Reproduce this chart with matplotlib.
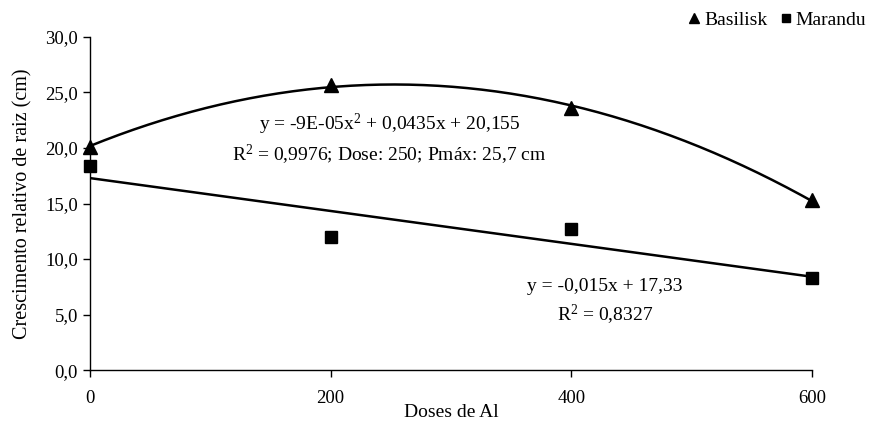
import numpy as np
import matplotlib
matplotlib.use("Agg")
import matplotlib.pyplot as plt
from matplotlib.ticker import FuncFormatter

plt.rcParams['font.family'] = ['Liberation Serif', 'DejaVu Serif']
plt.rcParams['mathtext.fontset'] = 'custom'
plt.rcParams['mathtext.rm'] = 'Liberation Serif'
plt.rcParams['mathtext.it'] = 'Liberation Serif:italic'

doses = [0, 200, 400, 600]
basilisk = [20.1, 25.7, 23.6, 15.3]
marandu = [18.4, 12.0, 12.7, 8.3]

x_ticks = [0, 200, 400, 600]
y_ticks = [0, 5, 10, 15, 20, 25, 30]

eq_basilisk = ["y = -9E-05x$^{\\mathrm{2}}$ + 0,0435x + 20,155",
               "R$^{\\mathrm{2}}$ = 0,9976; Dose: 250; Pmáx: 25,7 cm"]
eq_marandu = ["y = -0,015x + 17,33", "R$^{\\mathrm{2}}$ = 0,8327"]


def comma(v, pos):
    return f"{v:.1f}".replace(".", ",")


fig = plt.figure(figsize=(8.73, 4.24), dpi=100)
ax = fig.add_axes([0.103, 0.127, 0.827, 0.786])

# trend lines fitted to the points
xs = np.linspace(0, 600, 200)
cb = np.polyfit(doses, basilisk, 2)
cm = np.polyfit(doses, marandu, 1)
ax.plot(xs, np.polyval(cb, xs), color='black', lw=1.8, zorder=2)
ax.plot(xs, np.polyval(cm, xs), color='black', lw=1.8, zorder=2)

ax.plot(doses, basilisk, ls='none', marker='^', ms=10, color='black',
        label='Basilisk', clip_on=False, zorder=3)
ax.plot(doses, marandu, ls='none', marker='s', ms=8, color='black',
        label='Marandu', clip_on=False, zorder=3)

ax.set_xlim(0, 600)
ax.set_ylim(0, 30)
ax.set_xticks(x_ticks)
ax.set_yticks(y_ticks)
ax.yaxis.set_major_formatter(FuncFormatter(comma))
ax.tick_params(labelsize=13.5, direction='out', length=5, width=1, colors='black')
ax.tick_params(axis='x', pad=9)
for s in ['top', 'right']:
    ax.spines[s].set_visible(False)
ax.spines['left'].set_linewidth(1)
ax.spines['bottom'].set_linewidth(1)

ax.set_xlabel("Doses de Al", fontsize=14, labelpad=-2)
ax.set_ylabel("Crescimento relativo de raiz (cm)", fontsize=14.5, labelpad=9)

ax.text(249, 22.1, eq_basilisk[0], ha='center', va='center', fontsize=14)
ax.text(249, 19.4, eq_basilisk[1], ha='center', va='center', fontsize=14)
ax.text(428, 7.5, eq_marandu[0], ha='center', va='center', fontsize=14)
ax.text(428, 5.0, eq_marandu[1], ha='center', va='center', fontsize=14)

fig.legend(loc='upper right', bbox_to_anchor=(1.012, 1.015), ncol=2,
           frameon=False, fontsize=14, handletextpad=0.05, columnspacing=0.5,
           handlelength=0.9, markerscale=0.75)

fig.savefig("out.png", dpi=100)
